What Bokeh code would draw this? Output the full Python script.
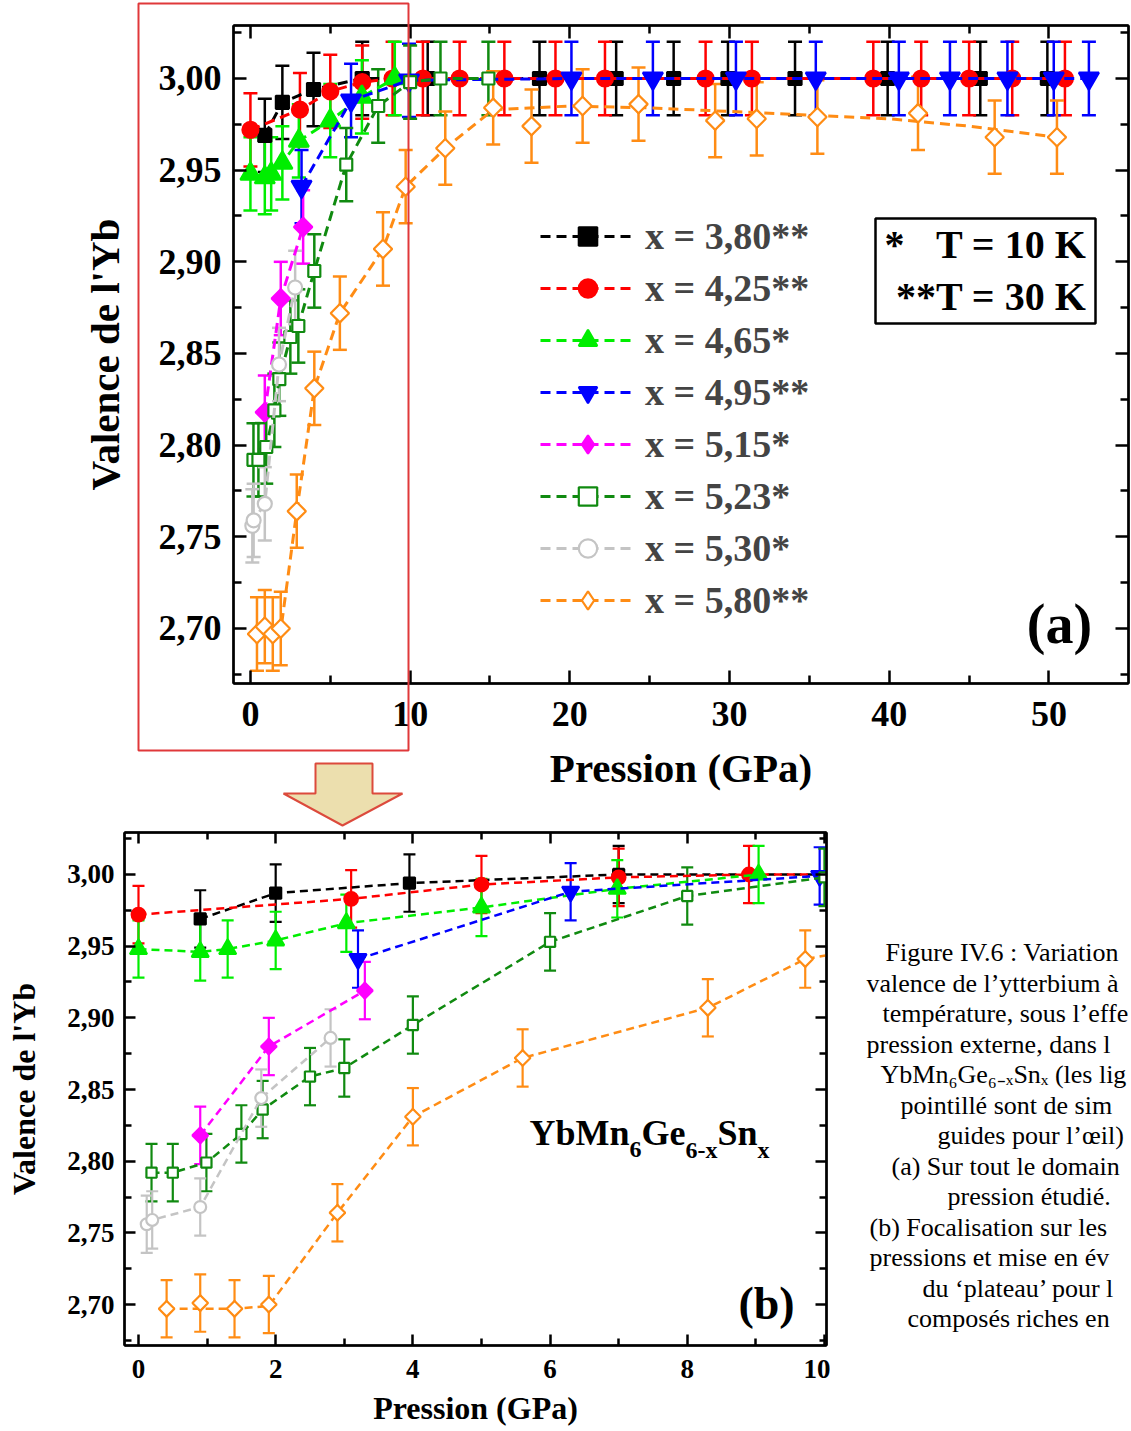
import math
from bokeh.plotting import figure
from bokeh.models import (Range1d, LinearAxis, FixedTicker, CustomJSTickFormatter, Legend,
                          LegendItem, Whisker, TeeHead, ColumnDataSource, Label, BoxAnnotation, GridBox)
from bokeh.embed import file_html
from bokeh.resources import INLINE

FONT = "Liberation Serif"

# ------------------------------------------------------------------ data
series_labels = ["x = 3,80**", "x = 4,25**", "x = 4,65*", "x = 4,95**",
                 "x = 5,15*", "x = 5,23*", "x = 5,30*", "x = 5,80**"]

p_380 = [0.9, 2.0, 3.95, 7.0, 11.1, 18.1, 22.9, 26.5, 29.9, 34.1, 39.9, 45.7, 49.9]
v_380 = [2.969, 2.987, 2.994, 3.000, 3.000, 3.000, 3.000, 3.000, 3.000, 3.000, 3.000, 3.000, 3.000]

p_425 = [0.0, 3.1, 5.0, 7.0, 8.9, 10.8, 13.1, 15.9, 19.1, 22.2, 28.5, 31.4, 39.0, 42.0, 45.0, 47.7, 51.0]
v_425 = [2.972, 2.983, 2.993, 2.998, 3.000, 3.000, 3.000, 3.000, 3.000, 3.000, 3.000, 3.000,
         3.000, 3.000, 3.000, 3.000, 3.000]

p_465 = [0.0, 0.9, 1.3, 2.0, 3.03, 5.0, 6.98, 9.04]
v_465 = [2.948, 2.946, 2.948, 2.954, 2.966, 2.977, 2.990, 3.000]

p_495 = [3.2, 6.3, 9.93, 20.1, 25.2, 30.4, 35.4, 40.6, 43.8, 47.4, 50.3, 52.5]
v_495 = [2.941, 2.988, 2.999, 3.000, 3.000, 3.000, 3.000, 3.000, 3.000, 3.000, 3.000, 3.000]

p_515 = [0.9, 1.9, 3.3]
v_515 = [2.818, 2.880, 2.919]

p_523 = [0.19, 0.5, 0.99, 1.5, 1.81, 2.5, 3.0, 4.0, 6.0, 8.0, 10.0, 11.9, 14.9]
v_523 = [2.792, 2.792, 2.799, 2.819, 2.836, 2.859, 2.865, 2.895, 2.953, 2.985, 2.998, 3.000, 3.000]

p_530 = [0.12, 0.2, 0.9, 1.79, 2.8]
v_530 = [2.756, 2.759, 2.768, 2.844, 2.886]

p_580 = [0.41, 0.9, 1.4, 1.9, 2.9, 4.0, 5.6, 8.3, 9.72, 12.2, 15.2, 17.6, 20.8, 24.3, 29.1,
         31.7, 35.5, 41.8, 46.6, 50.5]
v_580 = [2.697, 2.701, 2.697, 2.700, 2.764, 2.831, 2.872, 2.907, 2.941, 2.962, 2.984, 2.974,
         2.985, 2.986, 2.977, 2.978, 2.979, 2.981, 2.968, 2.968]

# dashed "guide for the eye" of x = 5,80 (smooth at high pressure)
guide_p_580 = [0.41, 0.9, 1.4, 1.9, 2.9, 4.0, 5.6, 8.3, 9.72, 12.2, 15.2, 20.0, 25.0, 30.0,
               35.0, 40.0, 45.0, 50.5]
guide_v_580 = [2.697, 2.697, 2.697, 2.699, 2.764, 2.831, 2.872, 2.907, 2.941, 2.962, 2.983,
               2.985, 2.984, 2.982, 2.980, 2.978, 2.974, 2.968]

ERR = 0.02

y_ticks = [2.70, 2.75, 2.80, 2.85, 2.90, 2.95, 3.00]
y_minor = [2.675, 2.725, 2.775, 2.825, 2.875, 2.925, 2.975, 3.025]
xa_ticks = [0, 10, 20, 30, 40, 50]
xa_minor = [5, 15, 25, 35, 45]
xb_ticks = [0, 2, 4, 6, 8, 10]
xb_minor = [1, 3, 5, 7, 9]

# caption as visible in the (cropped) figure: (text, left x in page pixels)
caption = [
    ("Figure IV.6 : Variation", 885),
    ("valence de l’ytterbium à", 866),
    ("température, sous l’effe", 882),
    ("pression externe, dans l", 866),
    ("YbMn₆Ge₆₋ₓSnₓ (les lig", 880),
    ("pointillé sont de sim", 900),
    ("guides pour l’œil)", 937),
    ("(a) Sur tout le domain", 891),
    ("pression étudié.", 947),
    ("(b) Focalisation sur les", 869),
    ("pressions et mise en év", 869),
    ("du ‘plateau’ pour l", 922),
    ("composés riches en", 907),
]

series = [
    (p_380, v_380, p_380, v_380),
    (p_425, v_425, p_425, v_425),
    (p_465, v_465, p_465, v_465),
    (p_495, v_495, p_495, v_495),
    (p_515, v_515, p_515, v_515),
    (p_523, v_523, p_523, v_523),
    (p_530, v_530, p_530, v_530),
    (p_580, v_580, guide_p_580, guide_v_580),
]

styles = [
    dict(color="#000000", marker="square", fill="#000000", size=13, angle=0.0),
    dict(color="#ff0000", marker="circle", fill="#ff0000", size=16, angle=0.0),
    dict(color="#00ee00", marker="triangle", fill="#00ee00", size=20, angle=0.0),
    dict(color="#0000ff", marker="inverted_triangle", fill="#0000ff", size=20, angle=0.0),
    dict(color="#ff00ff", marker="square", fill="#ff00ff", size=13, angle=math.pi / 4),
    dict(color="#108a10", marker="square", fill="#ffffff", size=12, angle=0.0),
    dict(color="#c4c4c4", marker="circle", fill="#ffffff", size=14, angle=0.0),
    dict(color="#ff8c14", marker="square", fill="#ffffff", size=13, angle=math.pi / 4),
]

# ------------------------------------------------------------------ geometry helpers (page pixels)
A_X0, A_X1, A_Y0, A_Y1 = -1.06, 54.98, 2.6700, 3.0289
A_L, A_T, A_W, A_H = 233, 25, 895, 658
B_X0, B_X1, B_Y0, B_Y1 = -0.204, 10.03, 2.6714, 3.0293
B_L, B_T, B_W, B_H = 124, 832, 702, 513
TOP_B = 830


def ax(px):
    return A_X0 + (px - A_L) / A_W * (A_X1 - A_X0)


def ay(py):
    return A_Y1 - (py - A_T) / A_H * (A_Y1 - A_Y0)


def bx(px):
    return B_X0 + (px - B_L) / B_W * (B_X1 - B_X0)


def by(py):
    return B_Y1 - (py - B_T) / B_H * (B_Y1 - B_Y0)


comma_fmt = CustomJSTickFormatter(code="return tick.toFixed(2).replace('.', ',');")
int_fmt = CustomJSTickFormatter(code="return tick.toFixed(0);")
empty_fmt = CustomJSTickFormatter(code="return '';")


def style_axis(axis, tick_size, label_size, standoff, label_standoff, tin, minin):
    axis.axis_line_width = 2.5
    axis.axis_line_color = "black"
    axis.major_tick_in = tin
    axis.major_tick_out = 0
    axis.minor_tick_in = minin
    axis.minor_tick_out = 0
    axis.major_tick_line_width = 2.5
    axis.minor_tick_line_width = 2.5
    axis.major_label_text_font = FONT
    axis.major_label_text_font_style = "bold"
    axis.major_label_text_font_size = tick_size
    axis.major_label_text_color = "black"
    axis.major_label_standoff = standoff
    axis.axis_label_text_font = FONT
    axis.axis_label_text_font_style = "bold"
    axis.axis_label_text_font_size = label_size
    axis.axis_label_text_color = "black"
    axis.axis_label_standoff = label_standoff


def mirror(p, loc, ticks, minor, tin, minin):
    a = LinearAxis(ticker=FixedTicker(ticks=ticks, minor_ticks=minor), formatter=empty_fmt,
                   major_label_text_font_size="1px", major_label_standoff=0,
                   major_tick_in=tin, major_tick_out=0, minor_tick_in=minin, minor_tick_out=0,
                   axis_line_width=2.5, major_tick_line_width=2.5, minor_tick_line_width=2.5)
    p.add_layout(a, loc)


def add_series(p, P, V, gP, gV, st, scale, xmax, dash, lw, ew, head):
    keep = [i for i in range(len(P)) if P[i] <= xmax]
    pp = [P[i] for i in keep]
    vv = [V[i] for i in keep]
    src = ColumnDataSource(dict(p=pp, v=vv, lo=[x - ERR for x in vv], hi=[x + ERR for x in vv]))
    p.add_layout(Whisker(source=src, base="p", lower="lo", upper="hi", dimension="height",
                         line_color=st["color"], line_width=ew,
                         upper_head=TeeHead(size=head, line_color=st["color"], line_width=ew),
                         lower_head=TeeHead(size=head, line_color=st["color"], line_width=ew)))
    lr = p.line(gP, gV, line_color=st["color"], line_width=lw, line_dash=dash)
    leg_r = None
    if st["angle"] != 0.0:
        # legend glyphs are drawn unrotated: a diamond marker (hidden below the rotated squares)
        leg_r = p.scatter("p", "v", source=src, marker="diamond", size=st["size"] * scale * 1.41,
                          fill_color=st["fill"], line_color=st["color"], line_width=2.2)
    sr = p.scatter("p", "v", source=src, marker=st["marker"], size=st["size"] * scale,
                   angle=st["angle"], fill_color=st["fill"], line_color=st["color"], line_width=2.2)
    return lr, (leg_r if leg_r is not None else sr)


# ------------------------------------------------------------------ figure (a)
pa = figure(width=1130, height=TOP_B, x_range=Range1d(A_X0, A_X1), y_range=Range1d(A_Y0, A_Y1),
            output_backend="svg", toolbar_location=None, frame_align=False,
            min_border_left=A_L, min_border_right=1130 - A_L - A_W, min_border_top=A_T,
            min_border_bottom=TOP_B - A_T - A_H,
            x_axis_label="Pression (GPa)", y_axis_label="Valence de l'Yb")
pa.grid.visible = False
pa.outline_line_color = "black"
pa.outline_line_width = 2
pa.xaxis.ticker = FixedTicker(ticks=xa_ticks, minor_ticks=xa_minor)
pa.xaxis.formatter = int_fmt
pa.yaxis.ticker = FixedTicker(ticks=y_ticks, minor_ticks=y_minor)
pa.yaxis.formatter = comma_fmt
style_axis(pa.xaxis[0], "36px", "41px", 18, 16, 13, 8)
style_axis(pa.yaxis[0], "36px", "41px", 12, 28, 13, 8)
mirror(pa, "above", xa_ticks, xa_minor, 13, 8)
mirror(pa, "right", y_ticks, y_minor, 13, 8)

items = []
for (P, V, gP, gV), st, lab in zip(series, styles, series_labels):
    lr, legr = add_series(pa, P, V, gP, gV, st, 1.0, 100, "10 6", 3, 2.5, 14)
    items.append(LegendItem(label=lab, renderers=[lr, legr]))

leg = Legend(items=items, location=(307, 60), padding=0, margin=0, spacing=6,
             glyph_width=95, glyph_height=46, label_height=46, label_standoff=10,
             label_text_font=FONT, label_text_font_style="bold", label_text_font_size="38px",
             border_line_color=None, background_fill_alpha=0)
pa.add_layout(leg)

pa.add_layout(BoxAnnotation(left=ax(875), right=ax(1095), top=ay(218), bottom=ay(323),
                            fill_color="white", fill_alpha=1.0, line_color="black", line_alpha=1.0,
                            line_width=2.5))
box_font = dict(text_font=FONT, text_font_style="bold", text_font_size="40px", text_color="black",
                text_baseline="alphabetic")
pa.add_layout(Label(x=ax(884), y=ay(244), text="*", text_align="left", **box_font))
pa.add_layout(Label(x=ax(1086), y=ay(244), text="T = 10 K", text_align="right", **box_font))
pa.add_layout(Label(x=ax(1086), y=ay(296), text="**T = 30 K", text_align="right", **box_font))
pa.add_layout(Label(x=ax(1059), y=ay(623), text="(a)", text_align="center", text_baseline="alphabetic",
                    text_font=FONT, text_font_style="bold", text_font_size="56px", text_color="black"))

# ------------------------------------------------------------------ figure (b)
HB = 598
pb = figure(width=830, height=HB, x_range=Range1d(B_X0, B_X1), y_range=Range1d(B_Y0, B_Y1),
            output_backend="svg", toolbar_location=None, frame_align=False,
            min_border_left=B_L, min_border_right=830 - B_L - B_W, min_border_top=B_T - TOP_B,
            min_border_bottom=HB - (B_T - TOP_B) - B_H,
            x_axis_label="Pression (GPa)", y_axis_label="Valence de l'Yb")
pb.grid.visible = False
pb.outline_line_color = "black"
pb.outline_line_width = 2
pb.xaxis.ticker = FixedTicker(ticks=xb_ticks, minor_ticks=xb_minor)
pb.xaxis.formatter = int_fmt
pb.yaxis.ticker = FixedTicker(ticks=y_ticks, minor_ticks=y_minor)
pb.yaxis.formatter = comma_fmt
style_axis(pb.xaxis[0], "27px", "32px", 14, 9, 11, 7)
style_axis(pb.yaxis[0], "27px", "32px", 10, 22, 11, 7)
mirror(pb, "above", xb_ticks, xb_minor, 11, 7)
mirror(pb, "right", y_ticks, y_minor, 11, 7)

for (P, V, gP, gV), st in zip(series, styles):
    add_series(pb, P, V, gP, gV, st, 0.85, 10.2, "8 5", 2.5, 2.2, 12)

sub_font = dict(text_font=FONT, text_font_style="bold", text_color="black", text_baseline="alphabetic",
                text_align="left")
formula = [("YbMn", 0, 0, "36px"), ("6", 100, -17, "24px"), ("Ge", 112, 0, "36px"),
           ("6-x", 156, -17, "24px"), ("Sn", 188, 0, "36px"), ("x", 228, -17, "24px")]
for txt, dx, dy, fs in formula:
    pb.add_layout(Label(x=bx(529), y=by(1132), x_offset=dx, y_offset=dy, text=txt,
                        text_font_size=fs, **sub_font))
pb.add_layout(Label(x=bx(766), y=by(1303), text="(b)", text_align="center", text_baseline="alphabetic",
                    text_font=FONT, text_font_style="bold", text_font_size="46px", text_color="black"))

# ------------------------------------------------------------------ overlay (frame box, arrow, caption)
OW, OH = 1130, TOP_B + HB
ov = figure(width=OW, height=OH, x_range=Range1d(0, OW), y_range=Range1d(OH, 0),
            output_backend="svg", toolbar_location=None, min_border=0, frame_align=False,
            x_axis_location=None, y_axis_location=None,
            background_fill_color=None, border_fill_color=None, outline_line_color=None)
ov.grid.visible = False
ov.add_layout(BoxAnnotation(left=138, right=408, top=3, bottom=750, fill_alpha=0,
                            line_color="#e0383a", line_alpha=1.0, line_width=2))
ov.patch([315, 372, 372, 402, 342, 283, 315], [763, 763, 793, 793, 825, 793, 793],
         fill_color="#ecdfae", line_color="#dc4a3c", line_width=2)
for i, (line, px) in enumerate(caption):
    ov.add_layout(Label(x=px, y=952 + 30.5 * i, text=line, text_align="left",
                        text_baseline="alphabetic", text_font=FONT, text_font_size="26px",
                        text_color="black"))

grid = GridBox(children=[(pa, 0, 0), (pb, 1, 0), (ov, 0, 0, 2, 1)], spacing=0)

open("out.html", "w").write(file_html(grid, INLINE))
